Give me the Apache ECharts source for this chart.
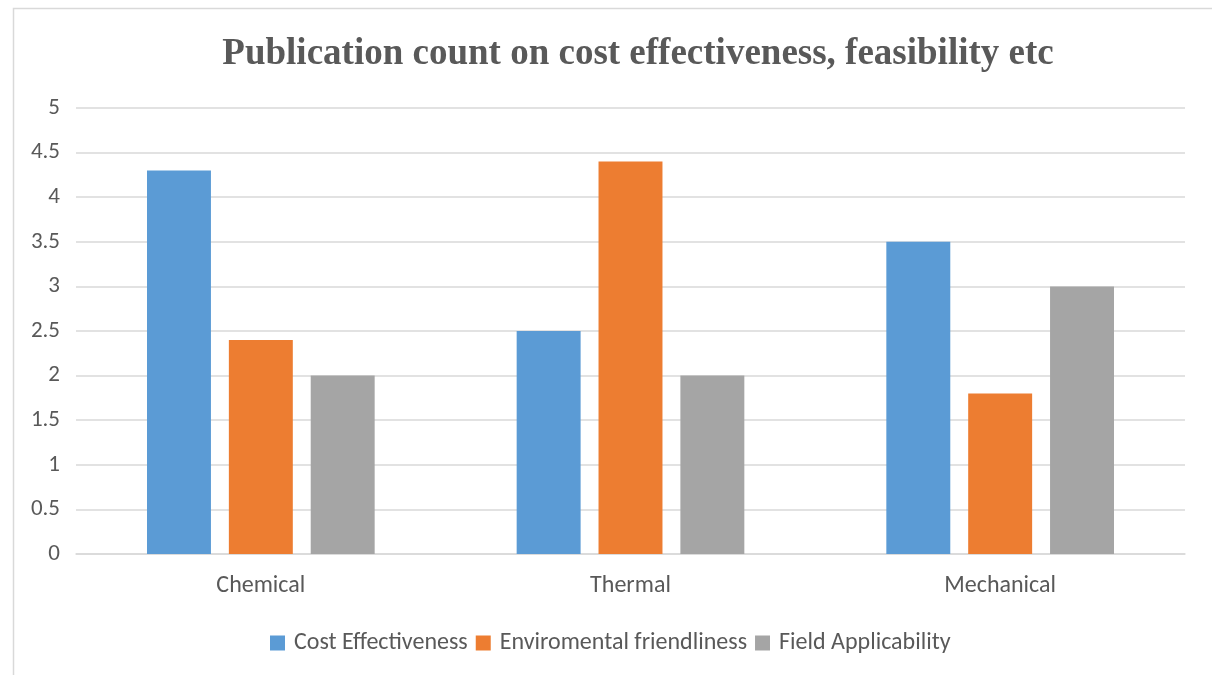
<!DOCTYPE html>
<html>
<head>
<meta charset="utf-8">
<script src="https://cdn.jsdelivr.net/npm/echarts@6/dist/echarts.min.js"></script>
<style>
  html, body { margin: 0; padding: 0; background: #fff; }
  #chart { width: 1212px; height: 675px; }
</style>
</head>
<body>
<div id="chart"></div>
<script>
const categories = ['Chemical', 'Thermal', 'Mechanical'];
const costEffectiveness = [4.3, 2.5, 3.5];
const environmentalFriendliness = [2.4, 4.4, 1.8];
const fieldApplicability = [2.0, 2.0, 3.0];
const seriesNames = ['Cost Effectiveness', 'Enviromental friendliness', 'Field Applicability'];

const chart = echarts.init(document.getElementById('chart'), null, { renderer: 'canvas' });
const textColor = '#595959';
const labelFont = 'Calibri, Carlito, "Open Sans", "Noto Sans", sans-serif';

chart.setOption({
  animation: false,
  color: ['#5B9BD5', '#ED7D31', '#A5A5A5'],
  graphic: [{
    type: 'rect',
    left: 11, top: 6,
    shape: { width: 1220, height: 700 },
    style: { fill: 'none', stroke: '#d9d9d9', lineWidth: 1.5 },
    silent: true
  }],
  title: {
    text: 'Publication count on cost effectiveness, feasibility etc',
    left: 633, top: 31,
    textAlign: 'center',
    textStyle: {
      fontFamily: '"Liberation Serif", "Times New Roman", serif',
      fontWeight: 'bold',
      fontSize: 37,
      color: textColor
    }
  },
  legend: {
    top: 626,
    left: 265,
    itemWidth: 15, itemHeight: 15,
    itemGap: 8,
    icon: 'rect',
    textStyle: { fontFamily: labelFont, fontSize: 24, color: textColor, padding: [0, 0, 0, 4] },
    data: seriesNames
  },
  grid: { left: 76, right: 27, top: 108, bottom: 121 },
  xAxis: {
    type: 'category',
    data: categories,
    axisLine: { lineStyle: { color: '#d9d9d9', width: 1.5 } },
    axisTick: { show: false },
    axisLabel: { fontFamily: labelFont, fontSize: 24, color: textColor, margin: 20 }
  },
  yAxis: {
    type: 'value',
    min: 0, max: 5, interval: 0.5,
    axisLine: { show: false },
    axisTick: { show: false },
    splitLine: { lineStyle: { color: '#d9d9d9', width: 1.5 } },
    axisLabel: { fontFamily: labelFont, fontSize: 23, color: textColor, margin: 16 }
  },
  series: [
    { name: seriesNames[0], type: 'bar', data: costEffectiveness, barWidth: '17.3%', barGap: '28%' },
    { name: seriesNames[1], type: 'bar', data: environmentalFriendliness, barWidth: '17.3%', barGap: '28%' },
    { name: seriesNames[2], type: 'bar', data: fieldApplicability, barWidth: '17.3%', barGap: '28%' }
  ]
});
</script>
</body>
</html>
